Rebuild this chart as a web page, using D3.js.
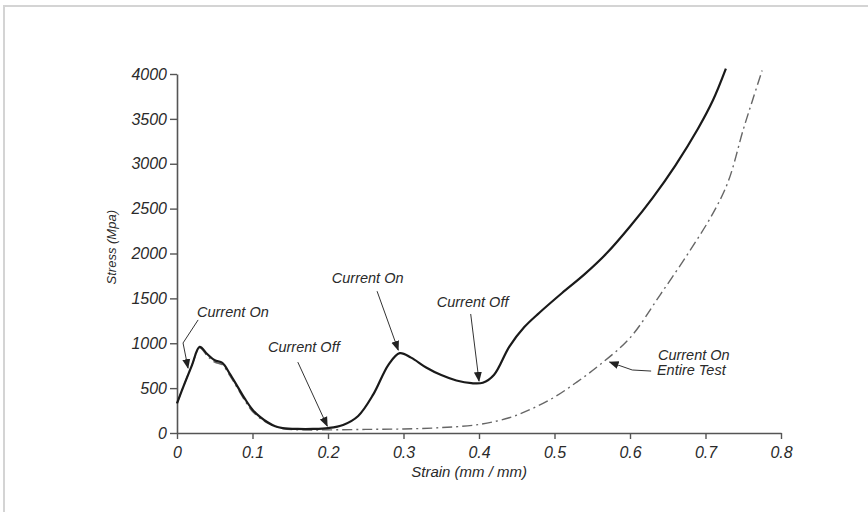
<!DOCTYPE html>
<html>
<head>
<meta charset="utf-8">
<script src="https://cdn.jsdelivr.net/npm/d3@7"></script>
<style>
  body { margin: 0; background: #fff; }
  svg { display: block; }
  text { font-family: "Liberation Sans", Arial, sans-serif; font-style: italic; fill: #2a2a2a; }
</style>
</head>
<body>
<svg id="chart" width="868" height="512"></svg>
<script>
// pulsed current test: stress vs strain
var strainOnOff = [0, 0.01, 0.02, 0.03, 0.04, 0.05, 0.06, 0.07, 0.08, 0.09, 0.10, 0.11, 0.12, 0.13, 0.14, 0.16, 0.18, 0.20, 0.22, 0.24, 0.26, 0.28, 0.295, 0.31, 0.33, 0.35, 0.37, 0.39, 0.405, 0.42, 0.44, 0.46, 0.48, 0.51, 0.54, 0.57, 0.60, 0.63, 0.66, 0.69, 0.71, 0.727];
var stressOnOff = [330, 550, 760, 960, 880, 810, 780, 660, 520, 380, 260, 180, 120, 75, 55, 45, 45, 55, 90, 190, 430, 760, 890, 840, 730, 645, 585, 555, 560, 650, 960, 1180, 1340, 1560, 1770, 2010, 2300, 2620, 2980, 3390, 3710, 4060];

var strainEntire = [0, 0.01, 0.02, 0.03, 0.04, 0.05, 0.06, 0.07, 0.08, 0.09, 0.10, 0.12, 0.14, 0.17, 0.20, 0.25, 0.30, 0.35, 0.40, 0.44, 0.47, 0.50, 0.53, 0.56, 0.60, 0.64, 0.68, 0.71, 0.73, 0.75, 0.762, 0.775];
var stressEntire = [330, 550, 760, 950, 860, 790, 760, 640, 500, 360, 240, 110, 50, 35, 35, 40, 45, 60, 95, 170, 270, 400, 570, 760, 1060, 1540, 2040, 2450, 2800, 3380, 3700, 4040];

var xTicks = [0, 0.1, 0.2, 0.3, 0.4, 0.5, 0.6, 0.7, 0.8];
var yTicks = [0, 500, 1000, 1500, 2000, 2500, 3000, 3500, 4000];

// annotations: label lines, text anchor, leader path (data coords), arrow at the end
var noteLabels = [["Current On"], ["Current Off"], ["Current On"], ["Current Off"], ["Current On", "Entire Test"]];
var noteAt = [[0.0265, 1295], [0.1205, 900], [0.205, 1670], [0.344, 1404], [0.637, 813]];
var notePaths = [
  [[0.028, 1260], [0.008, 1003], [0.0146, 724]],
  [[0.160, 790], [0.199, 78]],
  [[0.265, 1580], [0.293, 925]],
  [[0.389, 1326], [0.400, 580]],
  [[0.628, 690], [0.603, 702], [0.573, 790]]
];

var svg = d3.select("#chart"),
    margin = {top: 74, right: 87, bottom: 79, left: 177},
    width = 868 - margin.left - margin.right,
    height = 512 - margin.top - margin.bottom,
    g = svg.append("g").attr("transform", "translate(" + margin.left + "," + margin.top + ")");

// light frame of the page
svg.append("path")
    .attr("d", "M4,512V6H868")
    .attr("fill", "none")
    .attr("stroke", "#d4d4d4")
    .attr("stroke-width", 2);

var x = d3.scaleLinear().domain([0, 0.8]).range([0, width]);
var y = d3.scaleLinear().domain([0, 4000]).range([height, 0]);

svg.append("defs").append("marker")
    .attr("id", "arrow")
    .attr("viewBox", "0 0 10 10")
    .attr("refX", 9).attr("refY", 5)
    .attr("markerWidth", 10).attr("markerHeight", 10)
    .attr("markerUnits", "userSpaceOnUse")
    .attr("orient", "auto")
  .append("path")
    .attr("d", "M0,1L10,5L0,9Z")
    .attr("fill", "#222");

var xAxis = g.append("g")
    .attr("transform", "translate(0," + height + ")")
    .call(d3.axisBottom(x).tickValues(xTicks).tickSize(6).tickSizeOuter(0).tickFormat(d3.format("")));

var yAxis = g.append("g")
    .call(d3.axisLeft(y).tickValues(yTicks).tickSize(7).tickSizeOuter(0).tickFormat(d3.format("d")));

[xAxis, yAxis].forEach(function(a) {
  a.select(".domain").attr("stroke", "#555").attr("stroke-width", 1.6);
  a.selectAll(".tick line").attr("stroke", "#555").attr("stroke-width", 1.4);
  a.selectAll(".tick text").attr("font-size", 16).attr("fill", "#2a2a2a")
    .attr("font-family", "Liberation Sans, Arial, sans-serif").style("font-style", "italic");
});
xAxis.selectAll(".tick text").attr("dy", "1.0em");
yAxis.selectAll(".tick text").attr("x", -10);

g.append("text")
    .attr("x", x(0.387))
    .attr("y", height + 44)
    .attr("text-anchor", "middle")
    .attr("font-size", 15)
    .text("Strain (mm / mm)");

g.append("text")
    .attr("transform", "translate(" + (-61) + "," + y(2070) + ") rotate(-90)")
    .attr("text-anchor", "middle")
    .attr("font-size", 13)
    .text("Stress (Mpa)");

var line = d3.line()
    .x(function(d) { return x(d[0]); })
    .y(function(d) { return y(d[1]); })
    .curve(d3.curveCatmullRom.alpha(0.5));

g.append("path")
    .datum(d3.zip(strainEntire, stressEntire))
    .attr("fill", "none")
    .attr("stroke", "#666")
    .attr("stroke-width", 1.4)
    .attr("stroke-dasharray", "10,4,2,4")
    .attr("d", line);

g.append("path")
    .datum(d3.zip(strainOnOff, stressOnOff))
    .attr("fill", "none")
    .attr("stroke", "#1a1a1a")
    .attr("stroke-width", 2.2)
    .attr("d", line);

var straight = d3.line()
    .x(function(d) { return x(d[0]); })
    .y(function(d) { return y(d[1]); });

notePaths.forEach(function(p, i) {
  g.append("path")
      .attr("d", straight(p))
      .attr("fill", "none")
      .attr("stroke", "#333")
      .attr("stroke-width", 1)
      .attr("marker-end", "url(#arrow)");
  var t = g.append("text")
      .attr("x", x(noteAt[i][0]))
      .attr("y", y(noteAt[i][1]))
      .attr("font-size", 14.5);
  noteLabels[i].forEach(function(s, k) {
    t.append("tspan")
        .attr("x", x(noteAt[i][0]) - k)
        .attr("dy", k ? 15 : 0)
        .text(s);
  });
});
</script>
</body>
</html>
